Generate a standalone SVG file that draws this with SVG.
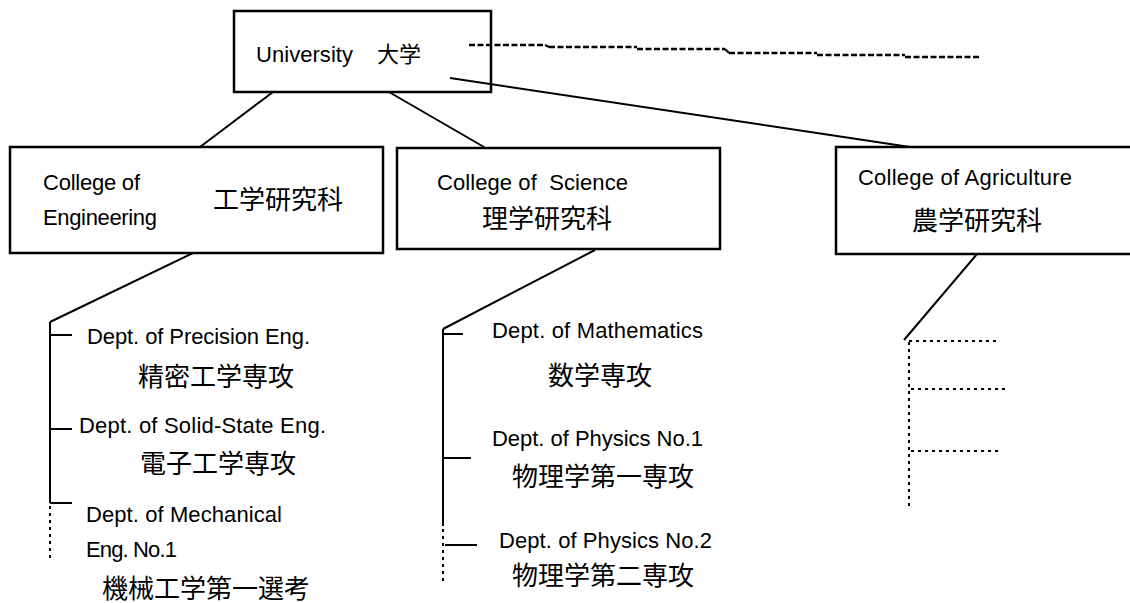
<svg xmlns="http://www.w3.org/2000/svg" width="1130" height="603" viewBox="0 0 1130 603">
<style>
.box{fill:#fff;stroke:#000;stroke-width:2.5}
.ln{stroke:#000;stroke-width:2;fill:none}
.dot{stroke:#000;stroke-width:2;fill:none;stroke-dasharray:3 4}
.dash{stroke:#000;stroke-width:2.6;fill:none;stroke-dasharray:6 2.5}
.en{font-family:"Liberation Sans",Arial,sans-serif;font-size:22px;fill:#000}
.jp{font-family:"Noto Sans CJK JP","Noto Sans CJK SC",sans-serif;font-size:26px;fill:#000}
</style>
<rect width="1130" height="603" fill="#fff"/>
<g id="connectors">
<line class="ln" x1="273" y1="92" x2="200" y2="147"/>
<line class="ln" x1="389" y1="92" x2="484" y2="147"/>
<line class="ln" x1="450" y1="78" x2="910" y2="147"/>
<line class="ln" x1="193" y1="253" x2="50" y2="322"/>
<line class="ln" x1="595" y1="250" x2="443" y2="329"/>
<line class="ln" x1="977" y1="254" x2="904" y2="340"/>
<polyline class="ln" points="50,322 50,503"/>
<line class="ln" x1="50" y1="335" x2="72" y2="335"/>
<line class="ln" x1="50" y1="429" x2="72" y2="429"/>
<line class="ln" x1="50" y1="503" x2="72" y2="503"/>
<line class="dot" x1="50" y1="506" x2="50" y2="562"/>
<polyline class="ln" points="443,329 443,526"/>
<line class="ln" x1="443" y1="334" x2="463" y2="334"/>
<line class="ln" x1="443" y1="458" x2="471" y2="458"/>
<line class="dot" x1="443" y1="529" x2="443" y2="583"/>
<line class="ln" x1="445" y1="545" x2="477" y2="545"/>
<line class="dot" x1="909" y1="342" x2="909" y2="507"/>
<line class="dot" x1="909" y1="341" x2="998" y2="341"/>
<line class="dot" x1="911" y1="389" x2="1005" y2="389"/>
<line class="dot" x1="911" y1="451" x2="998" y2="451"/>
<g id="dashed-line">
<line class="dash" x1="469" y1="45" x2="545" y2="45"/>
<line class="ln" x1="545" y1="45" x2="549" y2="47"/>
<line class="dash" x1="549" y1="47" x2="637" y2="47"/>
<line class="dash" x1="637" y1="49" x2="725" y2="49"/>
<line class="ln" x1="725" y1="49" x2="729" y2="53"/>
<line class="dash" x1="729" y1="53" x2="817" y2="53"/>
<line class="dash" x1="817" y1="55" x2="905" y2="55"/>
<line class="dash" x1="905" y1="57" x2="979" y2="57"/>
</g>
</g>
<g id="university">
<rect class="box" x="234" y="11" width="257" height="81" fill-opacity="0"/>
<text class="en" x="256" y="62" textLength="97">University</text>
<text class="jp" x="377" y="62" style="font-size:22px">大学</text>
</g>
<g id="college-engineering">
<rect class="box" x="10" y="147" width="373" height="106"/>
<text class="en" x="43" y="190" textLength="97">College of</text>
<text class="en" x="43" y="225" textLength="114">Engineering</text>
<text class="jp" x="213" y="209">工学研究科</text>
</g>
<g id="college-science">
<rect class="box" x="397" y="148" width="323" height="101"/>
<text class="en" x="437" y="190" textLength="191" xml:space="preserve">College of  Science</text>
<text class="jp" x="482" y="228">理学研究科</text>
</g>
<g id="college-agriculture">
<rect class="box" x="836" y="147" width="310" height="107"/>
<text class="en" x="858" y="185" textLength="214">College of Agriculture</text>
<text class="jp" x="912" y="230">農学研究科</text>
</g>
<g id="dept-precision">
<text class="en" x="87" y="344" textLength="223">Dept. of Precision Eng.</text>
<text class="jp" x="138" y="386">精密工学専攻</text>
</g>
<g id="dept-solid-state">
<text class="en" x="79" y="433" textLength="247">Dept. of Solid-State Eng.</text>
<text class="jp" x="140" y="473">電子工学専攻</text>
</g>
<g id="dept-mechanical">
<text class="en" x="86" y="522" textLength="196">Dept. of Mechanical</text>
<text class="en" x="86" y="557" textLength="91">Eng. No.1</text>
<text class="jp" x="102" y="598">機械工学第一選考</text>
</g>
<g id="dept-mathematics">
<text class="en" x="492" y="338" textLength="211">Dept. of Mathematics</text>
<text class="jp" x="548" y="385">数学専攻</text>
</g>
<g id="dept-physics-1">
<text class="en" x="492" y="446" textLength="211">Dept. of Physics No.1</text>
<text class="jp" x="512" y="486">物理学第一専攻</text>
</g>
<g id="dept-physics-2">
<text class="en" x="499" y="548" textLength="213">Dept. of Physics No.2</text>
<text class="jp" x="512" y="585">物理学第二専攻</text>
</g>
</svg>
